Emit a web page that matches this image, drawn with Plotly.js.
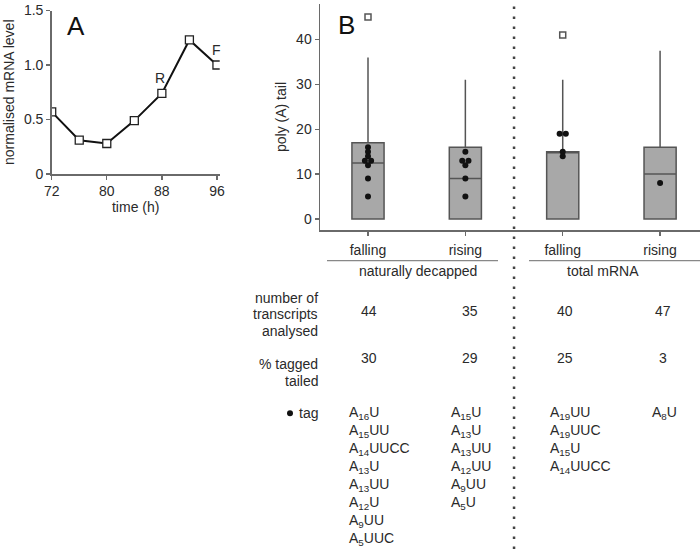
<!DOCTYPE html>
<html><head><meta charset="utf-8">
<script src="https://cdn.plot.ly/plotly-3.0.1.min.js"></script>
<style>html,body{margin:0;padding:0;background:#fff}#chart{width:700px;height:549px}</style>
</head><body><div id="chart"></div>
<script>
// ---- Panel A data ----
const timeH = [72, 76, 80, 84, 88, 92, 96];
const mRNALevel = [0.57, 0.31, 0.28, 0.49, 0.74, 1.23, 1.0];
const markTimes = [88, 96];
const markText = ['R', 'F'];

// ---- Panel B data ----
const categories = ['falling', 'rising', 'falling', 'rising'];
const groupNames = ['naturally decapped', 'total mRNA'];
const boxQ1 = [0, 0, 0, 0];
const boxMedian = [12.5, 9, 15, 10];
const boxQ3 = [17, 16, 15, 16];
const whiskerLow = [0, 0, 0, 0];
const whiskerHigh = [36, 31, 31, 37.5];
const outlierCat = [1, 3];
const outlierVal = [45, 41];
const transcriptsAnalysed = [44, 35, 40, 47];
const pctTaggedTailed = [30, 29, 25, 3];
const tagsDecappedFalling = ['A16U', 'A15UU', 'A14UUCC', 'A13U', 'A13UU', 'A12U', 'A9UU', 'A5UUC'];
const tagsDecappedRising = ['A15U', 'A13U', 'A13UU', 'A12UU', 'A9UU', 'A5U'];
const tagsTotalFalling = ['A19UU', 'A19UUC', 'A15U', 'A14UUCC'];
const tagsTotalRising = ['A8U'];
const tagLists = [tagsDecappedFalling, tagsDecappedRising, tagsTotalFalling, tagsTotalRising];

// ---- helpers (pixel -> paper) ----
const W = 700, H = 549;
const px = x => x / W;
const py = y => 1 - y / H;
const FONT = 'Liberation Sans, Arial, sans-serif';
const TXT = '#2a2a2a';
const AX = '#6a6a6a';

const traces = [];
// Panel A line
traces.push({
  type: 'scatter', mode: 'lines+markers', x: timeH, y: mRNALevel,
  xaxis: 'x', yaxis: 'y',
  line: {color: '#111', width: 2},
  marker: {symbol: 'square', size: 8, color: '#fff', line: {color: '#222', width: 1.3}},
  hoverinfo: 'x+y', showlegend: false
});
// Panel B boxes
for (let i = 0; i < 4; i++) {
  traces.push({
    type: 'box', orientation: 'v', x: [i + 1],
    q1: [boxQ1[i]], median: [boxMedian[i]], q3: [boxQ3[i]],
    lowerfence: [whiskerLow[i]], upperfence: [whiskerHigh[i]],
    width: 0.33, whiskerwidth: 0, boxpoints: false,
    fillcolor: '#a8a8a8', line: {color: '#555', width: 1.5},
    xaxis: 'x2', yaxis: 'y2', showlegend: false, hoverinfo: 'y'
  });
}
// outliers
traces.push({
  type: 'scatter', mode: 'markers', x: outlierCat, y: outlierVal,
  xaxis: 'x2', yaxis: 'y2',
  marker: {symbol: 'square-open', size: 6, color: '#555', line: {width: 1.5}},
  showlegend: false
});
// tag dots: tail length = number of As
const dotX = [], dotY = [];
tagLists.forEach((list, i) => {
  const vals = list.map(t => parseInt(t.match(/^A(\d+)/)[1], 10));
  const seen = {};
  vals.forEach(v => {
    const n = vals.filter(w => w === v).length;
    let off = 0;
    if (n > 1) { seen[v] = (seen[v] || 0) + 1; off = seen[v] === 1 ? -0.032 : 0.032; }
    dotX.push(i + 1 + off); dotY.push(v);
  });
});
traces.push({
  type: 'scatter', mode: 'markers', x: dotX, y: dotY,
  xaxis: 'x2', yaxis: 'y2',
  marker: {symbol: 'circle', size: 6, color: '#111'},
  showlegend: false
});

const ann = [];
const A = (o) => ann.push(Object.assign({showarrow: false, xref: 'paper', yref: 'paper', font: {family: FONT, size: 14, color: TXT}}, o));
// panel letters
A({x: px(76), y: py(26), text: 'A', font: {family: FONT, size: 26, color: '#111'}, xanchor: 'center', yanchor: 'middle'});
A({x: px(346), y: py(25), text: 'B', font: {family: FONT, size: 26, color: '#111'}, xanchor: 'center', yanchor: 'middle'});
// R / F labels
markTimes.forEach((t, k) => {
  const v = mRNALevel[timeH.indexOf(t)];
  ann.push({xref: 'x', yref: 'y', x: t, y: v, text: markText[k], showarrow: false,
    yshift: 15, xshift: k === 0 ? -2 : 0, font: {family: FONT, size: 14, color: TXT}});
});
// group labels
const groupCenters = [418, 603];
groupNames.forEach((g, k) => A({x: px(groupCenters[k]), y: py(271), text: g, xanchor: 'center', yanchor: 'middle'}));
// row labels
A({x: px(320), y: py(297.5), text: 'number of', xanchor: 'right', yanchor: 'middle'});
A({x: px(320), y: py(314), text: 'transcripts', xanchor: 'right', yanchor: 'middle'});
A({x: px(320), y: py(330.5), text: 'analysed', xanchor: 'right', yanchor: 'middle'});
A({x: px(320), y: py(364), text: '% tagged', xanchor: 'right', yanchor: 'middle'});
A({x: px(320), y: py(380.5), text: 'tailed', xanchor: 'right', yanchor: 'middle'});
A({x: px(320), y: py(413.3), text: 'tag', xanchor: 'right', yanchor: 'middle'});
const valueCols = [369, 470, 565, 663];
transcriptsAnalysed.forEach((v, i) => A({x: px(valueCols[i]), y: py(311), text: String(v), xanchor: 'center', yanchor: 'middle'}));
pctTaggedTailed.forEach((v, i) => A({x: px(valueCols[i]), y: py(357.5), text: String(v), xanchor: 'center', yanchor: 'middle'}));
const tagCols = [346.5, 449, 548, 650];
tagLists.forEach((list, i) => list.forEach((t, j) => {
  const html = t.replace(/^A(\d+)/, 'A<sub>$1</sub>');
  A({x: px(tagCols[i]), y: py(413.3 + j * 17.9), text: html, xanchor: 'left', yanchor: 'middle'});
}));

const shapes = [
  {type: 'line', xref: 'x2', yref: 'paper', x0: 2.5, x1: 2.5, y0: 0, y1: 1,
   line: {color: '#444', width: 2.5, dash: '2.5px,7.5px'}},
  {type: 'line', xref: 'paper', yref: 'paper', x0: px(327), x1: px(498), y0: py(260.7), y1: py(260.7), line: {color: '#888', width: 1.3}},
  {type: 'line', xref: 'paper', yref: 'paper', x0: px(529), x1: px(700), y0: py(260.7), y1: py(260.7), line: {color: '#888', width: 1.3}},
  {type: 'circle', xref: 'paper', yref: 'paper', x0: px(287), x1: px(293), y0: py(416.3), y1: py(410.3), fillcolor: '#111', line: {width: 0}}
];

const axisCommon = {showgrid: false, zeroline: false, showline: true, linecolor: AX, linewidth: 1.5,
  ticks: 'outside', ticklen: 4, tickcolor: AX, tickwidth: 1.3,
  tickfont: {family: FONT, size: 14, color: TXT}};

const layout = {
  width: W, height: H, margin: {l: 0, r: 0, t: 0, b: 0},
  paper_bgcolor: '#fff', plot_bgcolor: 'rgba(0,0,0,0)', showlegend: false,
  font: {family: FONT, color: TXT},
  xaxis: Object.assign({}, axisCommon, {domain: [px(51.7), px(219.7)], range: [72, 96.4], anchor: 'y',
    tickvals: [72, 80, 88, 96], title: {text: 'time (h)', font: {family: FONT, size: 14, color: TXT}, standoff: 4}}),
  yaxis: Object.assign({}, axisCommon, {domain: [py(174), py(10.5)], range: [0, 1.5], anchor: 'x',
    tickvals: [0, 0.5, 1.0, 1.5], ticktext: ['0', '0.5', '1.0', '1.5'],
    title: {text: 'normalised mRNA level', font: {family: FONT, size: 14, color: TXT}, standoff: 6}}),
  xaxis2: Object.assign({}, axisCommon, {domain: [px(320), 1], range: [0.507, 4.41], anchor: 'y2',
    tickvals: [1, 2, 3, 4], ticktext: categories, ticklabelstandoff: 3}),
  yaxis2: Object.assign({}, axisCommon, {domain: [py(230), py(4)], range: [-2.45, 47.9], anchor: 'x2',
    tickvals: [0, 10, 20, 30, 40],
    title: {text: 'poly (A) tail', font: {family: FONT, size: 14, color: TXT}, standoff: 6}}),
  annotations: ann, shapes: shapes
};
Plotly.newPlot('chart', traces, layout, {displayModeBar: false, staticPlot: true});
</script></body></html>
